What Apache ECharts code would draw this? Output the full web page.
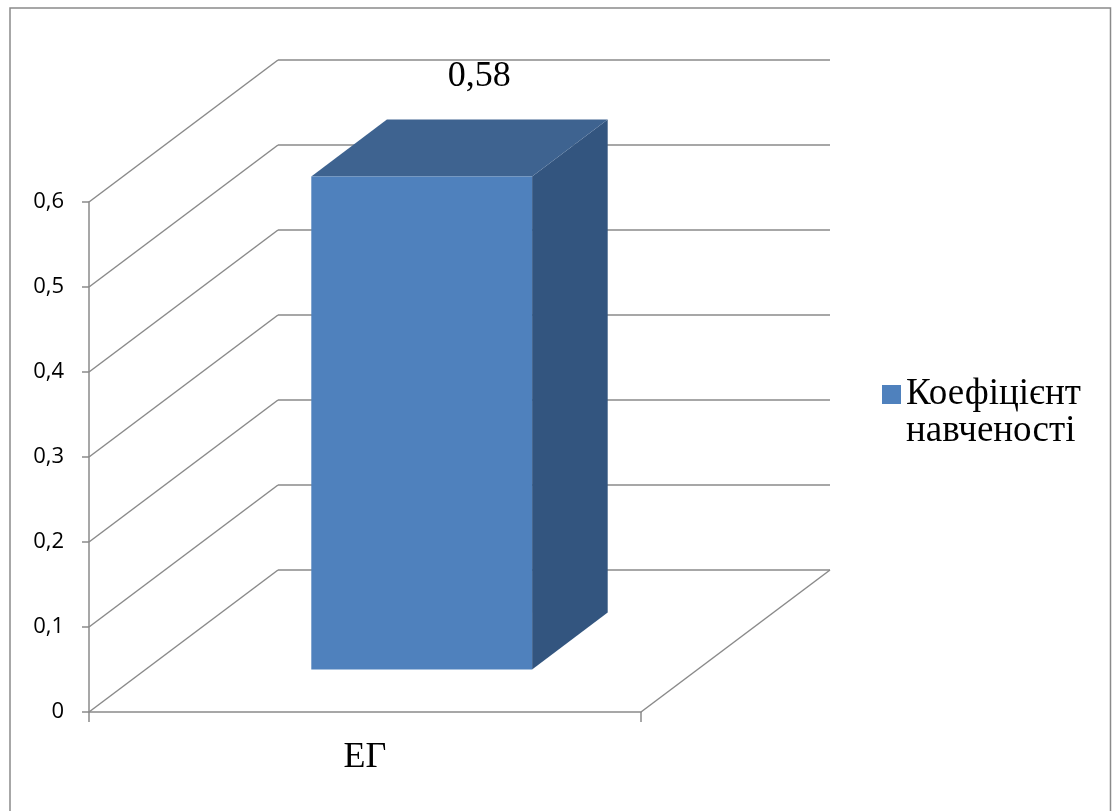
<!DOCTYPE html>
<html>
<head>
<meta charset="utf-8">
<script src="https://cdn.jsdelivr.net/npm/echarts@6/dist/echarts.min.js"></script>
<style>
  html, body { margin: 0; padding: 0; background: #ffffff; }
  #chart { width: 1112px; height: 811px; }
</style>
</head>
<body>
<div id="chart"></div>
<script>
// ---- data ----
const categories = ['ЕГ'];
const seriesName = 'Коефіцієнт навченості';
const values = [0.58];
const valueLabels = ['0,58'];
const yTicks = [0, 0.1, 0.2, 0.3, 0.4, 0.5, 0.6];
const yTickLabels = ['0', '0,1', '0,2', '0,3', '0,4', '0,5', '0,6'];

// ---- 3D look ----
// offset (px) from the front plane to the back wall
const DEPTH = [189, -142];
// the bar occupies this slice of the depth
const BAR_FRONT = 0.3;
const BAR_BACK = 0.7;
// bar width as a share of the category band
const BAR_WIDTH = 0.4;

const WALL = '#8a8a8a';
const BAR_FRONT_COLOR = '#4F81BD';
const BAR_TOP_COLOR = '#3E6390';
const BAR_SIDE_COLOR = '#33557F';

const SERIF = '"Liberation Serif", "Times New Roman", serif';
const SANS = '"Open Sans", Lato, sans-serif';

function tickLabel(v) {
  const i = yTicks.findIndex(t => Math.abs(t - v) < 1e-9);
  return i >= 0 ? yTickLabels[i] : '';
}

// walls and floor: one back-wall gridline plus one side-wall diagonal per tick
function renderWall(params, api) {
  const cs = params.coordSys;
  const v = api.value(1);
  const y = api.coord([0, v])[1];
  const x0 = cs.x;
  const x1 = cs.x + cs.width;
  const st = { stroke: WALL, lineWidth: 1.5 };
  const children = [
    { type: 'line', shape: { x1: x0, y1: y, x2: x0 + DEPTH[0], y2: y + DEPTH[1] }, style: st },
    { type: 'line', shape: { x1: x0 + DEPTH[0], y1: y + DEPTH[1], x2: x1 + DEPTH[0], y2: y + DEPTH[1] }, style: st }
  ];
  if (v === yTicks[0]) {
    // right edge of the floor
    children.push({ type: 'line', shape: { x1: x1, y1: y, x2: x1 + DEPTH[0], y2: y + DEPTH[1] }, style: st });
  }
  return { type: 'group', children: children };
}

// a box-shaped bar: front face, top face and right side, plus its value label
function renderBar(params, api) {
  const ci = api.value(0);
  const v = api.value(1);
  const top = api.coord([ci, v]);
  const base = api.coord([ci, 0]);
  const bw = api.size([1, 0])[0] * BAR_WIDTH;
  const xl = top[0] - bw / 2;
  const xr = top[0] + bw / 2;
  const fx = DEPTH[0] * BAR_FRONT, fy = DEPTH[1] * BAR_FRONT;
  const bx = DEPTH[0] * BAR_BACK, by = DEPTH[1] * BAR_BACK;
  return {
    type: 'group',
    children: [
      { type: 'polygon', shape: { points: [
          [xr + fx, top[1] + fy], [xr + bx, top[1] + by], [xr + bx, base[1] + by], [xr + fx, base[1] + fy]
        ] }, style: { fill: BAR_SIDE_COLOR } },
      { type: 'polygon', shape: { points: [
          [xl + fx, top[1] + fy], [xr + fx, top[1] + fy], [xr + bx, top[1] + by], [xl + bx, top[1] + by]
        ] }, style: { fill: BAR_TOP_COLOR } },
      { type: 'polygon', shape: { points: [
          [xl + fx, top[1] + fy], [xr + fx, top[1] + fy], [xr + fx, base[1] + fy], [xl + fx, base[1] + fy]
        ] }, style: { fill: BAR_FRONT_COLOR } },
      { type: 'text', style: {
          text: valueLabels[params.dataIndex],
          x: top[0] + bx - 18,
          y: top[1] + by - 43,
          align: 'center',
          verticalAlign: 'middle',
          fill: '#000000',
          font: '36px ' + SERIF
        } }
    ]
  };
}

const chart = echarts.init(document.getElementById('chart'), null, { renderer: 'canvas' });

chart.setOption({
  animation: false,
  backgroundColor: '#ffffff',
  graphic: [{
    type: 'rect',
    shape: { x: 10, y: 8, width: 1100.5, height: 830 },
    style: { fill: 'none', stroke: '#8a8a8a', lineWidth: 1.5 },
    silent: true
  }],
  grid: { left: 89, top: 202, width: 552, height: 510 },
  legend: {
    data: [seriesName],
    orient: 'vertical',
    left: 882,
    top: 339,
    padding: 0,
    icon: 'rect',
    itemWidth: 19,
    itemHeight: 19,
    selectedMode: false,
    // leading empty line keeps the first text line level with the swatch
    formatter: name => '\n' + name.replace(' ', '\n'),
    textStyle: {
      fontFamily: SERIF,
      fontSize: 37,
      lineHeight: 37,
      color: '#000000'
    }
  },
  xAxis: {
    type: 'category',
    data: categories,
    boundaryGap: true,
    axisLine: { show: true, lineStyle: { color: WALL, width: 1.5 } },
    axisTick: { show: true, length: 10, lineStyle: { color: WALL, width: 1.5 } },
    axisLabel: { fontFamily: SERIF, fontSize: 36, color: '#000000', margin: 28 },
    splitLine: { show: false }
  },
  yAxis: {
    type: 'value',
    min: 0,
    max: 0.6,
    interval: 0.1,
    axisLine: { show: true, lineStyle: { color: WALL, width: 1.5 } },
    axisTick: { show: true, length: 7, lineStyle: { color: WALL, width: 1.5 } },
    axisLabel: { fontFamily: SANS, fontSize: 22, color: '#000000', margin: 25, formatter: tickLabel },
    splitLine: { show: false }
  },
  series: [
    {
      name: 'walls',
      type: 'custom',
      silent: true,
      z: 1,
      renderItem: renderWall,
      data: yTicks.map(v => [0, v])
    },
    {
      name: seriesName,
      type: 'custom',
      silent: true,
      z: 2,
      itemStyle: { color: BAR_FRONT_COLOR },
      renderItem: renderBar,
      data: values.map((v, i) => [i, v])
    }
  ]
});
</script>
</body>
</html>
